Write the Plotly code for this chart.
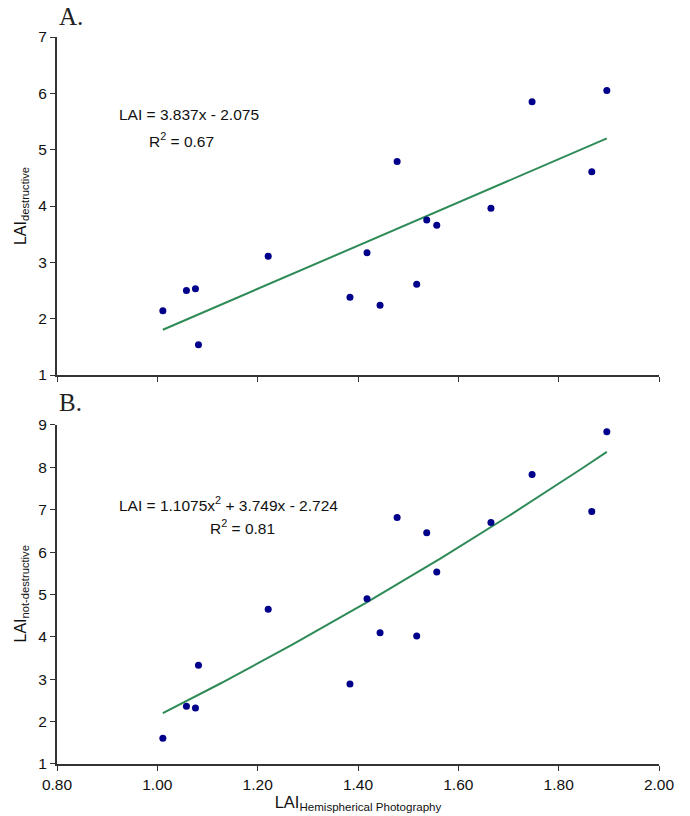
import numpy as np
import plotly.graph_objects as go

# ---- data ----
lai_hemi = [1.011, 1.058, 1.076, 1.082, 1.221, 1.384, 1.418, 1.444,
            1.478, 1.517, 1.537, 1.557, 1.665, 1.747, 1.866, 1.896]
lai_destructive = [2.14, 2.50, 2.53, 1.54, 3.11, 2.38, 3.17, 2.24,
                   4.79, 2.61, 3.75, 3.66, 3.96, 5.85, 4.61, 6.05]
lai_not_destructive = [1.61, 2.36, 2.32, 3.33, 4.65, 2.89, 4.90, 4.10,
                       6.82, 4.02, 6.46, 5.53, 6.70, 7.83, 6.96, 8.84]

# trendline coefficients as printed on the chart
lin_coef = [3.837, -2.075]              # LAI = 3.837x - 2.075
quad_coef = [1.1075, 3.749, -2.724]     # LAI = 1.1075x^2 + 3.749x - 2.724

x_ticks = [0.80, 1.00, 1.20, 1.40, 1.60, 1.80, 2.00]
y_ticks_a = [1, 2, 3, 4, 5, 6, 7]
y_ticks_b = [1, 2, 3, 4, 5, 6, 7, 8, 9]

# ---- trendlines over the data range ----
xf = np.linspace(min(lai_hemi), max(lai_hemi), 200)
y_lin = np.polyval(lin_coef, xf)
y_quad = np.polyval(quad_coef, xf)

FONT = "Liberation Sans, Arial, sans-serif"
SERIF = "Liberation Serif, Times New Roman, serif"
MARK = "#00008B"
LINE = "#2E8B57"
AX = "#333333"
FS = 15.5

fig = go.Figure()
fig.add_trace(go.Scatter(x=xf, y=y_lin, mode="lines", line=dict(color=LINE, width=2),
                         xaxis="x", yaxis="y", hoverinfo="skip"))
fig.add_trace(go.Scatter(x=lai_hemi, y=lai_destructive, mode="markers",
                         marker=dict(color=MARK, size=7), xaxis="x", yaxis="y"))
fig.add_trace(go.Scatter(x=xf, y=y_quad, mode="lines", line=dict(color=LINE, width=2),
                         xaxis="x2", yaxis="y2", hoverinfo="skip"))
fig.add_trace(go.Scatter(x=lai_hemi, y=lai_not_destructive, mode="markers",
                         marker=dict(color=MARK, size=7), xaxis="x2", yaxis="y2"))

xcommon = dict(range=[0.8, 2.0], tickvals=x_ticks, tickformat=".2f", automargin=False,
               showline=True, linecolor=AX, linewidth=2, ticks="outside",
               ticklen=5, tickwidth=1, tickcolor=AX, showgrid=False, zeroline=False,
               tickfont=dict(family=FONT, size=FS, color="#111"))
ycommon = dict(showline=True, linecolor=AX, linewidth=2, ticks="outside", automargin=False,
               ticklen=5, tickwidth=1, tickcolor=AX, showgrid=False, zeroline=False,
               tickfont=dict(family=FONT, size=FS, color="#111"))

top_dom = [0.535, 1]
bot_dom = [0, 0.4663]

fig.update_layout(
    width=690, height=816,
    margin=dict(l=57, r=31, t=37, b=52),
    paper_bgcolor="white", plot_bgcolor="white",
    showlegend=False,
    font=dict(family=FONT, size=FS, color="#111"),
    xaxis=dict(xcommon, anchor="y", domain=[0, 1], showticklabels=False),
    yaxis=dict(ycommon, anchor="x", domain=top_dom, range=[1, 7], tickvals=y_ticks_a),
    xaxis2=dict(xcommon, anchor="y2", domain=[0, 1],
                title=dict(text="LAI<sub>Hemispherical Photography</sub>", standoff=4,
                           font=dict(family=FONT, size=16.5))),
    yaxis2=dict(ycommon, anchor="x2", domain=bot_dom, range=[1, 9], tickvals=y_ticks_b),
)

ann = [
    dict(text="A.", xref="paper", yref="paper", x=0.0, y=1.028, xanchor="left",
         yanchor="middle", showarrow=False, font=dict(family=SERIF, size=25, color="#222")),
    dict(text="B.", xref="paper", yref="paper", x=0.0, y=0.4973, xanchor="left",
         yanchor="middle", showarrow=False, font=dict(family=SERIF, size=25, color="#222")),
    dict(text="LAI<sub>destructive</sub>", xref="paper", yref="paper", x=-0.0598,
         y=sum(top_dom) / 2, xanchor="center", yanchor="middle", textangle=-90,
         showarrow=False, font=dict(family=FONT, size=16)),
    dict(text="LAI<sub>not-destructive</sub>", xref="paper", yref="paper", x=-0.0598,
         y=sum(bot_dom) / 2, xanchor="center", yanchor="middle", textangle=-90,
         showarrow=False, font=dict(family=FONT, size=16)),
    dict(text="LAI = 3.837x - 2.075", xref="x", yref="y", x=0.9196, y=5.624,
         xanchor="left", yanchor="middle", showarrow=False, font=dict(family=FONT, size=FS)),
    dict(text="R<sup>2</sup> = 0.67", xref="x", yref="y", x=0.9788, y=5.17,
         xanchor="left", yanchor="middle", showarrow=False, font=dict(family=FONT, size=FS)),
    dict(text="LAI = 1.1075x<sup>2</sup> + 3.749x - 2.724", xref="x2", yref="y2", x=0.9196, y=7.14,
         xanchor="left", yanchor="middle", showarrow=False, font=dict(family=FONT, size=FS)),
    dict(text="R<sup>2</sup> = 0.81", xref="x2", yref="y2", x=1.1004, y=6.59,
         xanchor="left", yanchor="middle", showarrow=False, font=dict(family=FONT, size=FS)),
]
fig.update_layout(annotations=ann)

# remove the default page margin so the 690x816 figure fills the window exactly
fig.write_html("out.html", config={"displayModeBar": False},
               post_script="document.body.style.margin='0';document.body.style.overflow='hidden';")
